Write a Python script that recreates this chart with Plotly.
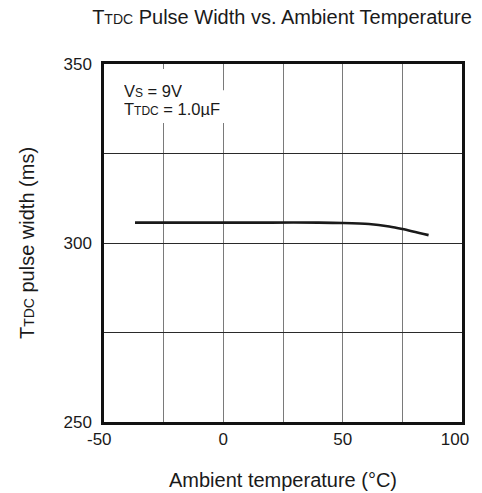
import plotly.graph_objects as go

# Data
temps = [-37, -20, 0, 20, 40, 50, 61, 69.5, 75, 86]
widths = [305.7, 305.7, 305.7, 305.7, 305.7, 305.6, 305.3, 304.6, 303.9, 302.2]

x_ticks = [-50, -25, 0, 25, 50, 75, 100]
x_labels = ["-50\u00a0\u00a0", "", "0", "", "50", "", "100\u00a0\u00a0\u00a0"]
y_ticks = [250, 275, 300, 325, 350]
y_labels = ["250", "", "300", "", "350"]

FONT = "Liberation Sans, Arial, sans-serif"
TXT = "#1a1a1a"


def sm(s, size):
    return "<span style='font-size:%gpx'>%s</span>" % (size, s)


fig = go.Figure()
fig.add_trace(go.Scatter(
    x=temps, y=widths, mode="lines",
    line=dict(color="#1a1a1a", width=2.6, shape="spline", smoothing=0.8),
    showlegend=False, hoverinfo="skip",
))

fig.update_layout(
    width=482, height=493,
    margin=dict(l=104, r=20, t=64, b=71),
    paper_bgcolor="white", plot_bgcolor="white",
    font=dict(family=FONT, color=TXT, size=17),
    title=dict(
        text="T" + sm("TDC", 14) + " Pulse Width vs. Ambient Temperature",
        x=0.585, xanchor="center", y=0.965, yanchor="middle",
        font=dict(size=20, family=FONT, color=TXT),
    ),
    xaxis=dict(
        range=[-50, 100], tickmode="array", tickvals=x_ticks, ticktext=x_labels,
        showgrid=True, gridcolor="#7a7a7a", gridwidth=1,
        showline=True, linecolor="#111", linewidth=2.5, mirror=True,
        ticks="", ticklabelstandoff=0, zeroline=False, automargin=False,
        ticklabeloverflow="allow",
        title=dict(text="Ambient temperature (°C)", standoff=25,
                   font=dict(size=20, family=FONT, color=TXT)),
        tickfont=dict(size=17, family=FONT, color=TXT),
    ),
    yaxis=dict(
        range=[250, 350], tickmode="array", tickvals=y_ticks, ticktext=y_labels,
        showgrid=True, gridcolor="#2a2a2a", gridwidth=1,
        showline=True, linecolor="#111", linewidth=2.5, mirror=True,
        ticks="", ticklabelstandoff=6, zeroline=False, automargin=False,
        ticklabeloverflow="allow",
        title=dict(text="T" + sm("TDC", 14) + " pulse width (ms)", standoff=24,
                   font=dict(size=20, family=FONT, color=TXT)),
        tickfont=dict(size=17, family=FONT, color=TXT),
    ),
)

# white masks behind the condition text (gridlines are interrupted there)
fig.add_shape(type="rect", xref="x", yref="y", x0=-44, x1=-20, y0=333.5, y1=348.6,
              fillcolor="white", line=dict(width=0), layer="between")
fig.add_shape(type="rect", xref="x", yref="y", x0=-20, x1=2, y0=333.5, y1=342.7,
              fillcolor="white", line=dict(width=0), layer="between")

fig.add_annotation(xref="x", yref="y", x=-42.3, y=342.5, xanchor="left", yanchor="middle",
                   text="V" + sm("S", 12) + " = 9V", showarrow=False, height=17,
                   font=dict(size=16.5, family=FONT, color=TXT))
fig.add_annotation(xref="x", yref="y", x=-42.3, y=337.6, xanchor="left", yanchor="middle",
                   text="T" + sm("TDC", 12) + " = 1.0µF", showarrow=False, height=17,
                   font=dict(size=16.5, family=FONT, color=TXT))

fig.write_html("out.html")
